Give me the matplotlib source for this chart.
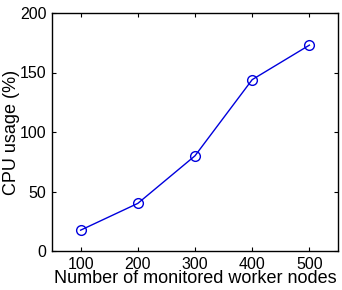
import matplotlib
matplotlib.use("Agg")
import matplotlib.pyplot as plt

nodes = [100, 200, 300, 400, 500]
cpu = [17.5, 40, 80, 144, 173]
xticks = [100, 200, 300, 400, 500]
yticks = [0, 50, 100, 150, 200]

plt.rcParams['font.family'] = ['Liberation Sans', 'DejaVu Sans']

fig = plt.figure(figsize=(3.42, 2.90), dpi=100)
ax = fig.add_axes([52/342, 1-251/290, (338-52)/342, (251-13)/290])
ax.plot(nodes, cpu, color='#0000dd', lw=1.0, marker='o', markersize=7,
        markerfacecolor='none', markeredgecolor='#0000dd', markeredgewidth=1.0)
ax.set_xlim(50, 550)
ax.set_ylim(0, 200)
ax.set_xticks(xticks)
ax.set_yticks(yticks)
ax.tick_params(direction='in', top=True, right=True, labelsize=11.5, length=3, width=0.8, pad=4)
for s in ax.spines.values():
    s.set_linewidth(1.0)
ax.set_xlabel('Number of monitored worker nodes', fontsize=13, labelpad=-1)
ax.set_ylabel('CPU usage (%)', fontsize=13, labelpad=0)
fig.savefig('out.png', dpi=100)
